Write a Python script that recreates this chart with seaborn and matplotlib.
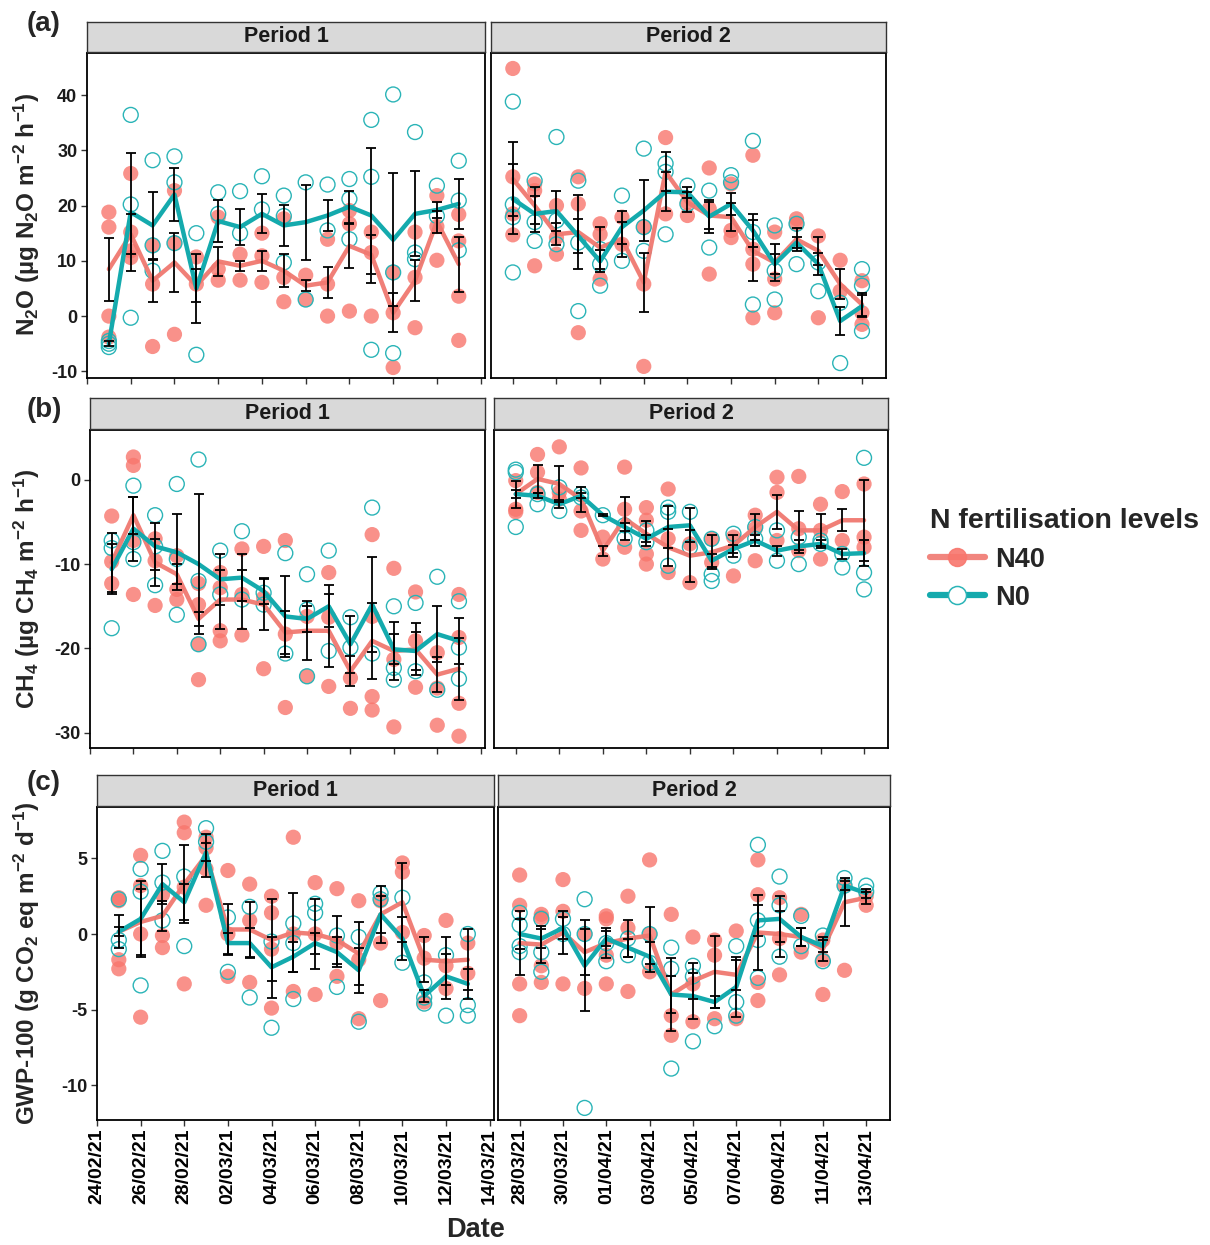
import numpy as np
import pandas as pd
import matplotlib
matplotlib.use("Agg")
import matplotlib.pyplot as plt
import matplotlib.dates as mdates
from matplotlib.lines import Line2D
import seaborn as sns

# ---------------- data ----------------
dates_p1 = pd.date_range("2021-02-25", "2021-03-13", freq="D")
dates_p2 = pd.date_range("2021-03-28", "2021-04-13", freq="D")
ticks_p1 = pd.date_range("2021-02-24", "2021-03-14", freq="2D")
ticks_p2 = pd.date_range("2021-03-28", "2021-04-13", freq="2D")
treatments = ["N40", "N0"]
periods = ["Period 1", "Period 2"]

# (a) N2O
n2o_p1_n40_pts = [[18.8, 16.1, 0.0, -3.8], [25.8, 15.2, 11.8, 10.6], [12.8, 5.8, -5.5], [22.7, 13.2, -3.3],
                  [10.7, 5.8], [17.9, 8.5, 6.5], [11.2, 6.5], [15.0, 10.9, 6.1], [17.6, 7.0, 2.6], [7.4, 3.0],
                  [13.9, 5.8, 0.0], [19.1, 16.7, 0.9], [15.2, 11.5, 0.0], [7.9, 0.6, -9.3], [15.2, 7.0, -2.1],
                  [21.8, 16.2, 10.1], [18.4, 13.6, 3.6, -4.4]]
n2o_p1_n40_mean = [8.5, 14.8, 6.4, 9.7, 5.5, 9.9, 9.1, 10.0, 8.2, 5.5, 6.1, 12.7, 11.1, 0.6, 6.4, 17.1, 9.4]
n2o_p1_n40_se = [5.7, 3.6, 3.8, 5.4, 3.0, 2.6, 0.9, 1.8, 3.0, 1.0, 2.8, 4.0, 3.5, 3.5, 3.7, 2.0, 5.0]
n2o_p1_n0_pts = [[-5.6, -5.0, -4.5], [36.4, 20.2, -0.3], [28.2, 12.8, 8.2], [28.9, 24.2, 13.2], [15.0, -7.0],
                 [22.4, 18.5], [22.6, 15.0], [25.3, 19.3], [21.8, 18.1, 9.7], [24.2, 3.0], [23.8, 15.5],
                 [24.8, 21.2, 13.9], [35.5, 25.2, -6.1], [40.1, 7.9, -6.7], [33.3, 11.5, 10.3], [23.6, 18.1],
                 [28.1, 20.9, 11.9]]
n2o_p1_n0_mean = [-5.0, 18.8, 16.4, 22.0, 5.0, 17.2, 16.1, 18.5, 16.4, 17.0, 18.2, 19.8, 18.2, 13.8, 18.5, 19.2, 20.3]
n2o_p1_n0_se = [0.5, 10.7, 6.0, 4.8, 6.3, 3.8, 3.3, 3.5, 3.7, 6.8, 2.8, 2.9, 12.3, 12.0, 7.7, 1.5, 4.5]

n2o_p2_n40_pts = [[44.8, 25.2, 18.5, 14.7], [23.9, 22.7, 9.1], [20.0, 14.2, 11.2], [25.2, 20.3, -3.0],
                  [16.7, 14.8, 6.7], [17.9, 13.0], [16.1, 5.8, -9.1], [32.3, 18.5], [20.6, 18.2],
                  [26.8, 19.4, 7.6], [23.9, 15.5, 14.2], [29.1, 12.1, 9.4, -0.3], [15.2, 6.7, 0.6],
                  [17.6, 16.7], [14.5, -0.3], [10.1, 4.5], [6.4, 0.6, -1.5]]
n2o_p2_n40_mean = [24.8, 20.0, 14.8, 15.2, 12.4, 13.9, 6.1, 26.1, 20.6, 18.2, 17.9, 11.8, 9.7, 13.9, 11.8, 5.8, 2.1]
n2o_p2_n40_se = [6.7, 3.3, 2.0, 6.7, 3.8, 3.2, 5.3, 3.5, 1.8, 2.5, 2.5, 5.5, 3.3, 2.1, 2.5, 2.7, 2.0]
n2o_p2_n0_pts = [[38.8, 20.2, 17.9, 7.9], [24.5, 17.0, 13.6], [32.4, 17.3, 13.0], [24.5, 13.3, 0.9],
                 [12.1, 9.4, 5.5], [21.8, 10.0], [30.3, 16.1, 11.8], [27.6, 26.1, 14.8], [23.6, 20.3],
                 [22.7, 12.4], [25.5, 24.2], [31.7, 15.2, 2.1], [16.4, 8.2, 3.0], [16.7, 9.4], [9.7, 4.5],
                 [2.4, -8.5], [8.5, 5.5, -2.7]]
n2o_p2_n0_mean = [21.2, 18.5, 19.0, 14.5, 9.9, 16.1, 19.1, 22.5, 22.4, 18.0, 20.3, 15.5, 9.4, 13.3, 9.4, -0.9, 1.8]
n2o_p2_n0_se = [6.4, 3.3, 3.6, 3.0, 2.0, 3.0, 5.6, 3.5, 1.0, 3.0, 2.0, 3.0, 1.8, 1.0, 2.0, 2.5, 2.0]

# (b) CH4
ch4_p1_n40_pts = [[-4.3, -9.7, -12.3], [2.7, 1.7, -7.2, -13.6], [-7.0, -9.6, -14.9], [-9.0, -13.0, -14.2],
                  [-12.3, -14.8, -19.5, -23.7], [-11.0, -12.8, -17.9, -19.1], [-8.2, -13.6, -18.4],
                  [-7.9, -14.0, -22.4], [-7.2, -18.3, -27.0], [-16.2, -23.3], [-11.0, -16.3, -24.5],
                  [-23.5, -27.1], [-6.5, -16.2, -25.7, -27.3], [-10.5, -21.3, -29.3], [-13.3, -19.1, -24.6],
                  [-20.5, -24.7, -29.1], [-13.6, -18.7, -26.5, -30.4]]
ch4_p1_n40_mean = [-9.8, -4.2, -9.8, -11.2, -16.5, -14.2, -14.2, -14.8, -18.1, -17.9, -17.9, -22.7, -19.1,
                   -20.3, -20.1, -23.1, -22.4]
ch4_p1_n40_se = [3.5, 2.2, 2.8, 1.2, 0.8, 3.5, 3.5, 3.0, 2.5, 3.5, 4.3, 1.8, 4.5, 3.4, 3.1, 2.1, 3.7]
ch4_p1_n0_pts = [[-7.2, -8.1, -17.6], [-0.7, -7.4, -9.4], [-4.2, -7.9, -12.5], [-0.5, -9.4, -16.0],
                 [2.4, -12.0, -19.5], [-8.4, -13.6], [-6.1, -14.2], [-13.4, -14.8], [-8.7, -20.6],
                 [-11.2, -15.4, -23.3], [-8.4, -20.3], [-16.3, -19.9], [-3.3, -20.6], [-15.0, -22.3, -23.7],
                 [-14.6, -22.7], [-11.5, -24.9], [-14.4, -19.9, -23.6]]
ch4_p1_n0_mean = [-10.6, -5.8, -7.9, -8.6, -10.0, -11.8, -11.6, -13.2, -16.2, -16.5, -15.0, -19.5, -14.8,
                  -20.1, -20.3, -18.3, -19.1]
ch4_p1_n0_se = [3.0, 3.8, 2.8, 4.5, 8.3, 3.0, 2.8, 1.5, 4.8, 1.5, 2.5, 3.4, 5.6, 1.8, 2.2, 3.3, 2.7]

ch4_p2_n40_pts = [[-0.1, -3.5, -3.8], [3.0, 0.9, -1.5], [3.9, -1.5, -2.3], [1.4, -3.7, -6.0], [-6.8, -9.4],
                  [1.5, -3.5, -8.0], [-3.3, -4.8, -8.8, -10.0], [-1.1, -7.0, -11.0], [-7.6, -12.2],
                  [-7.0, -9.8], [-6.8, -11.4], [-4.2, -5.8, -9.6], [0.3, -1.5, -7.2], [0.4, -5.8, -8.4],
                  [-2.9, -6.0, -9.4], [-1.4, -7.2], [-0.5, -6.8, -8.0]]
ch4_p2_n40_mean = [-1.7, 0.1, -0.5, -2.3, -8.4, -4.6, -6.4, -8.0, -9.0, -8.6, -7.8, -5.6, -3.8, -6.0, -6.0,
                   -4.8, -4.8]
ch4_p2_n40_se = [1.6, 1.7, 2.1, 1.5, 0.6, 2.5, 1.5, 2.2, 3.1, 2.0, 1.3, 1.6, 2.0, 2.3, 1.9, 1.3, 4.8]
ch4_p2_n0_pts = [[1.2, 0.9, -5.6], [-1.7, -2.9], [-0.9, -3.7], [-1.7, -2.1], [-4.2], [-5.4, -7.0],
                 [-6.0, -7.4], [-3.3, -3.8, -10.2], [-3.8, -8.0], [-7.0, -11.2, -12.0], [-6.4, -9.0],
                 [-5.6, -7.0], [-6.0, -9.6], [-6.8, -10.0], [-7.2, -7.6], [-8.8, -10.4], [2.6, -11.0, -13.0]]
ch4_p2_n0_mean = [-1.7, -1.9, -2.9, -1.9, -4.2, -5.6, -7.0, -5.6, -5.4, -9.6, -8.2, -7.2, -8.4, -7.9, -7.6,
                  -8.8, -8.7]
ch4_p2_n0_se = [0.5, 0.3, 0.5, 0.3, 0.1, 0.5, 0.4, 2.5, 2.0, 0.8, 0.5, 0.6, 0.6, 0.8, 0.5, 0.6, 1.5]

# (c) GWP-100
gwp_p1_n40_pts = [[2.4, 2.2, -1.7, -2.3], [5.2, 3.2, 0.0, -5.5], [2.6, -0.1, -0.9], [7.4, 6.7, 3.1, -3.3],
                  [6.4, 5.7, 4.3, 1.9], [4.2, 0.0, -2.8], [3.3, 0.9, -3.2], [2.5, 1.4, -1.0, -4.9],
                  [6.4, 0.0, -3.8], [3.4, 0.0, -4.0], [3.0, -0.6, -2.8], [2.2, -1.7, -5.6], [2.2, -0.6, -4.4],
                  [4.7, 4.1, 0.1], [-0.1, -1.6, -4.5], [0.9, -2.1, -3.6], [-0.6, -2.6]]
gwp_p1_n40_mean = [0.15, 0.8, 1.2, 3.3, 5.2, 0.3, 0.3, -0.4, 0.1, 0.0, -0.4, -1.3, 1.3, 2.1, -1.7, -1.8, -1.7]
gwp_p1_n40_se = [1.1, 2.2, 1.0, 2.6, 1.4, 1.7, 1.8, 2.7, 2.6, 2.3, 1.6, 2.1, 1.9, 2.6, 1.5, 1.6, 2.0]
gwp_p1_n0_pts = [[2.3, -0.4, -1.0], [4.3, 2.8, -3.4], [5.5, 3.4, 0.9], [3.8, -0.8], [7.0, 6.1], [1.1, -2.5],
                 [1.8, -4.2], [-0.5, -6.2], [0.7, -0.6, -4.3], [2.0, 1.4], [-0.1, -3.5], [-0.2, -5.8],
                 [2.7, 2.3], [2.4, -1.9], [-3.2, -4.2, -4.6], [-1.4, -5.4], [0.0, -4.7, -5.4]]
gwp_p1_n0_mean = [0.15, 1.0, 3.3, 2.1, 5.4, -0.6, -0.6, -2.2, -1.5, -0.6, -1.2, -2.4, 1.3, -0.3, -4.1, -2.8, -3.3]
gwp_p1_n0_se = [0.3, 2.5, 1.3, 1.2, 0.6, 0.7, 1.0, 2.0, 1.0, 0.7, 1.0, 1.5, 1.2, 1.4, 0.4, 1.5, 1.0]

gwp_p2_n40_pts = [[3.9, 1.9, -3.3, -5.4], [1.3, 1.1, -2.1, -3.2], [3.6, 1.5, -3.3], [0.0, -3.6],
                  [1.2, 1.0, -1.4, -3.3], [2.5, 0.4, -3.8], [4.9, 0.0, -2.5], [1.3, -5.4, -6.7],
                  [-0.2, -3.3, -5.8], [-0.4, -1.4, -5.6], [0.2, -5.6], [4.9, 2.6, -3.2, -4.4],
                  [2.4, -0.3, -2.7], [1.3, -1.2], [-0.4, -1.7, -4.0], [3.2, -2.4], [2.5, 1.9]]
gwp_p2_n40_mean = [-0.6, -0.7, 0.1, -1.2, -0.6, -0.3, -0.1, -4.0, -3.1, -2.5, -2.7, 0.1, 0.0, -0.2, -1.0, 2.1, 2.4]
gwp_p2_n40_se = [2.1, 1.2, 1.4, 1.5, 1.0, 1.2, 1.9, 1.2, 1.2, 2.4, 1.0, 2.5, 1.5, 0.6, 0.8, 1.6, 0.4]
gwp_p2_n0_pts = [[1.4, 0.6, -0.8, -1.2], [1.0, -1.2, -2.5], [1.0, 0.0], [2.3, 0.0, -11.5], [-0.6, -1.8],
                 [-0.3, -1.4], [0.0, -1.9], [-0.9, -2.3, -8.9], [-2.1, -2.8, -7.1], [-6.1],
                 [-0.8, -4.5, -5.4], [5.9, 0.9, -0.4, -2.9], [3.8, 1.9, -1.5], [1.2, -0.8], [-0.1, -1.8],
                 [3.7, 3.2], [3.2, 2.8]]
gwp_p2_n0_mean = [0.0, -0.3, 0.4, -2.1, -0.3, -0.9, -1.5, -4.0, -4.1, -4.5, -3.5, 0.9, 1.0, -0.2, -0.8, 3.2, 2.7]
gwp_p2_n0_se = [1.0, 0.6, 0.7, 3.0, 0.5, 0.6, 1.0, 2.4, 1.5, 0.4, 2.0, 1.0, 1.5, 0.6, 0.4, 0.3, 0.3]

row_labels = ["(a)", "(b)", "(c)"]
ylabels = ["N$_2$O (µg N$_2$O m$^{-2}$ h$^{-1}$)",
           "CH$_4$ (µg CH$_4$ m$^{-2}$ h$^{-1}$)",
           "GWP-100 (g CO$_2$ eq m$^{-2}$ d$^{-1}$)"]
yticks_n2o = [-10, 0, 10, 20, 30, 40]
yticks_ch4 = [-30, -20, -10, 0]
yticks_gwp = [-10, -5, 0, 5]

# ---------------- style ----------------
sns.set_theme(style="white")
plt.rcParams["font.family"] = ["Liberation Sans", "DejaVu Sans"]
plt.rcParams["mathtext.default"] = "regular"
plt.rcParams["axes.unicode_minus"] = False

RED = "#F8766D"
RED_LINE = "#F07870"
TEAL = "#2AB4B7"
TEAL_LINE = "#14AAAD"

W, H = 1210, 1245
fig = plt.figure(figsize=(W / 100, H / 100), dpi=100)


def rect(x0, x1, ytop, ybot):
    return [x0 / W, 1 - ybot / H, (x1 - x0) / W, (ybot - ytop) / H]


def long_points(dates, pts, trt):
    rows = []
    for d, vals in zip(dates, pts):
        for v in vals:
            rows.append({"date": d, "value": v, "trt": trt})
    return pd.DataFrame(rows)


panels = {
    0: {"Period 1": (n2o_p1_n40_pts, n2o_p1_n40_mean, n2o_p1_n40_se, n2o_p1_n0_pts, n2o_p1_n0_mean, n2o_p1_n0_se),
        "Period 2": (n2o_p2_n40_pts, n2o_p2_n40_mean, n2o_p2_n40_se, n2o_p2_n0_pts, n2o_p2_n0_mean, n2o_p2_n0_se)},
    1: {"Period 1": (ch4_p1_n40_pts, ch4_p1_n40_mean, ch4_p1_n40_se, ch4_p1_n0_pts, ch4_p1_n0_mean, ch4_p1_n0_se),
        "Period 2": (ch4_p2_n40_pts, ch4_p2_n40_mean, ch4_p2_n40_se, ch4_p2_n0_pts, ch4_p2_n0_mean, ch4_p2_n0_se)},
    2: {"Period 1": (gwp_p1_n40_pts, gwp_p1_n40_mean, gwp_p1_n40_se, gwp_p1_n0_pts, gwp_p1_n0_mean, gwp_p1_n0_se),
        "Period 2": (gwp_p2_n40_pts, gwp_p2_n40_mean, gwp_p2_n40_se, gwp_p2_n0_pts, gwp_p2_n0_mean, gwp_p2_n0_se)},
}

# layout (pixels) per row
layout = [
    dict(top=53, bottom=378, strip_top=22, p1=(87, 485), p2=(491, 886), ylim=(-11.2, 47.6), yticks=yticks_n2o,
         lab_y=24, ylab_y=215),
    dict(top=430, bottom=748, strip_top=398, p1=(90, 485), p2=(494, 888), ylim=(-31.8, 5.9), yticks=yticks_ch4,
         lab_y=410, ylab_y=589),
    dict(top=807, bottom=1120, strip_top=775, p1=(97, 494), p2=(498, 890), ylim=(-12.3, 8.4), yticks=yticks_gwp,
         lab_y=783, ylab_y=963),
]

for r, lay in enumerate(layout):
    for period in periods:
        x0, x1 = lay["p1"] if period == "Period 1" else lay["p2"]
        dates = dates_p1 if period == "Period 1" else dates_p2
        ticks = ticks_p1 if period == "Period 1" else ticks_p2
        n40_pts, n40_mean, n40_se, n0_pts, n0_mean, n0_se = panels[r][period]

        ax = fig.add_axes(rect(x0, x1, lay["top"], lay["bottom"]))
        df40 = long_points(dates, n40_pts, "N40")
        df0 = long_points(dates, n0_pts, "N0")
        sns.scatterplot(data=df40, x="date", y="value", ax=ax, color=RED, s=120, alpha=0.8,
                        edgecolor="none", zorder=2, legend=False)
        sns.scatterplot(data=df0, x="date", y="value", ax=ax, color=TEAL, s=115, facecolor="none",
                        edgecolor=TEAL, linewidth=1.0, zorder=3, legend=False)
        m40 = pd.DataFrame({"date": dates, "mean": n40_mean})
        m0 = pd.DataFrame({"date": dates, "mean": n0_mean})
        sns.lineplot(data=m40, x="date", y="mean", ax=ax, color=RED_LINE, lw=3.2, errorbar=None,
                     zorder=4, alpha=0.95)
        sns.lineplot(data=m0, x="date", y="mean", ax=ax, color=TEAL_LINE, lw=3.2, errorbar=None, zorder=5)
        ax.errorbar(dates, n40_mean, yerr=n40_se, fmt="none", ecolor="black", elinewidth=1.3,
                    capsize=3.5, capthick=1.3, zorder=6)
        ax.errorbar(dates, n0_mean, yerr=n0_se, fmt="none", ecolor="black", elinewidth=1.3,
                    capsize=3.5, capthick=1.3, zorder=6)

        if period == "Period 1":
            ax.set_xlim(mdates.date2num(dates[0]) - 0.97, mdates.date2num(dates[-1]) + 1.2)
        else:
            ax.set_xlim(mdates.date2num(dates[0]) - 1.0, mdates.date2num(dates[-1]) + 1.1)
        ax.set_ylim(*lay["ylim"])
        ax.set_xlabel("")
        ax.set_ylabel("")
        ax.grid(False)
        for sp in ax.spines.values():
            sp.set_color("black")
            sp.set_linewidth(1.3)
        ax.set_xticks(ticks)
        ax.xaxis.set_major_formatter(mdates.DateFormatter("%d/%m/%y"))
        if r == 2:
            ax.tick_params(axis="x", bottom=True, length=4, width=1, color="#333333", labelsize=14,
                           labelrotation=90, labelcolor="black", pad=2)
            for lab in ax.get_xticklabels():
                lab.set_fontweight("bold")
        else:
            ax.tick_params(axis="x", bottom=True, length=4, width=1, color="#333333", labelbottom=False)
        ax.set_yticks(lay["yticks"])
        if period == "Period 1":
            ax.tick_params(axis="y", left=True, length=4, width=1, color="#333333", labelsize=13,
                           labelcolor="#1a1a1a", pad=3)
            for lab in ax.get_yticklabels():
                lab.set_fontweight("bold")
        else:
            ax.tick_params(axis="y", left=False, labelleft=False)

        # facet strip
        sax = fig.add_axes(rect(x0, x1, lay["strip_top"], lay["top"] - 1))
        sax.set_facecolor("#D9D9D9")
        sax.set_xticks([])
        sax.set_yticks([])
        for sp in sax.spines.values():
            sp.set_color("#333333")
            sp.set_linewidth(1.0)
        sax.text(0.5, 0.5, period, ha="center", va="center", fontsize=15.5, fontweight="bold",
                 color="#1a1a1a", transform=sax.transAxes)

    fig.text(27 / W, 1 - lay["lab_y"] / H, row_labels[r], fontsize=20, fontweight="bold",
             ha="left", va="center")
    fig.text(27 / W, 1 - lay["ylab_y"] / H, ylabels[r], fontsize=17.5, fontweight="bold",
             rotation=90, ha="center", va="center")

fig.text(476 / W, 1 - 1230 / H, "Date", fontsize=19.5, fontweight="bold", ha="center", va="center")

handles = [Line2D([0], [0], color=RED_LINE, lw=4.5, marker="o", markersize=13,
                  markerfacecolor=RED, markeredgecolor=RED, alpha=0.9),
           Line2D([0], [0], color=TEAL_LINE, lw=4.5, marker="o", markersize=13,
                  markerfacecolor="white", markeredgecolor=TEAL, markeredgewidth=1.1)]
leg = fig.legend(handles, treatments, loc="upper left", bbox_to_anchor=(906 / W, 1 - 484 / H),
                 frameon=False, fontsize=19.5, title="N fertilisation levels",
                 title_fontproperties={"weight": "bold", "size": 20.5}, alignment="left",
                 handlelength=2.0, handletextpad=0.4, labelspacing=0.45)
for t in leg.get_texts():
    t.set_fontweight("bold")

fig.savefig("out.png", dpi=100)
